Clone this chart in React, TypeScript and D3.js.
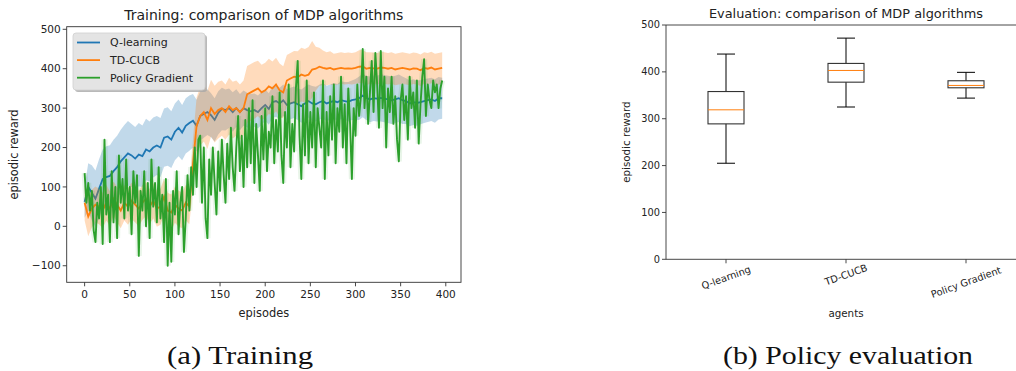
import React from "react";
import * as d3 from "d3";

// ---------- Training data (left panel) ----------
const trainEpisodes: number[] = d3.range(0, 400, 4); // 0..396, step 4
const qMean: number[] = [62,100,85,70,95,120,125,128,140,150,165,175,185,180,172,182,178,195,190,200,205,200,225,228,220,240,250,238,255,262,268,255,280,285,290,282,270,288,298,295,300,290,300,290,300,295,292,295,290,300,308,298,315,318,312,320,308,312,315,310,305,312,318,312,310,315,318,312,315,318,315,320,318,316,320,322,325,332,326,322,325,324,326,324,322,320,322,325,320,318,312,315,313,315,318,320,322,318,325,325];
const qStd: number[] = [40,60,70,72,75,75,78,78,80,80,80,82,82,80,80,80,78,78,76,76,75,75,74,74,72,72,72,70,70,70,68,66,62,60,58,56,55,55,54,52,50,50,48,46,45,44,44,42,42,42,40,40,40,40,40,40,40,40,40,40,42,42,42,44,44,44,45,45,45,46,46,48,48,50,50,52,55,55,56,58,58,58,60,60,60,60,60,60,60,58,58,58,58,56,56,55,55,55,54,52];
const tdMean: number[] = [60,25,45,55,50,40,60,45,70,55,40,60,50,65,55,45,60,70,50,65,45,50,75,40,35,55,45,40,60,50,160,255,280,290,270,300,285,295,300,290,305,295,300,290,300,335,340,345,350,340,345,355,350,360,345,340,370,375,380,378,385,382,385,398,400,405,402,400,402,398,400,402,400,401,400,402,405,406,400,402,401,400,403,402,400,402,398,400,402,400,398,401,400,396,402,400,403,398,400,402];
const tdStd: number[] = [45,50,48,46,45,45,45,44,44,45,45,45,46,46,45,45,44,44,45,45,46,46,45,45,46,46,46,45,45,45,60,72,75,75,74,72,72,72,70,70,72,72,70,70,70,72,72,72,70,70,70,70,68,68,68,66,65,65,65,66,68,68,70,72,56,48,44,42,42,40,40,40,40,40,40,40,42,42,42,40,40,40,40,40,40,40,40,40,40,40,40,40,40,40,40,40,40,40,40,40];
const pgEpisodes: number[] = d3.range(0, 398, 2); // 0..396, step 2
const pgValues: number[] = [135,60,110,40,90,-10,-40,60,20,100,-45,220,30,80,-40,140,10,100,-30,180,60,120,20,170,40,100,-20,140,60,130,-75,90,40,140,0,110,-30,170,50,110,10,150,20,80,-40,120,-100,60,-90,90,30,140,-20,60,100,-65,20,130,40,150,80,200,100,220,230,60,200,20,-30,170,80,200,110,30,190,90,220,130,60,210,120,250,150,90,200,280,140,230,100,270,150,300,160,320,110,260,180,90,280,170,300,140,240,200,330,160,270,190,340,180,110,290,200,360,150,260,190,350,420,230,120,310,180,370,160,290,200,340,150,300,250,200,370,120,290,180,330,220,360,160,300,240,380,200,310,160,350,260,120,300,230,360,280,330,450,300,380,260,340,420,290,440,360,250,445,300,380,200,350,290,380,260,330,220,165,320,360,270,330,220,380,300,340,250,370,210,310,380,424,280,360,320,300,370,340,360,300,350,370];
const seriesNames: string[] = ["Q-learning", "TD-CUCB", "Policy Gradient"];
const seriesColors: string[] = ["#1f77b4", "#ff7f0e", "#2ca02c"];
const trainXTicks: number[] = [0, 50, 100, 150, 200, 250, 300, 350, 400];
const trainYTicks: number[] = [-100, 0, 100, 200, 300, 400, 500];

// ---------- Evaluation data (right panel) ----------
const agents: string[] = ["Q-learning", "TD-CUCB", "Policy Gradient"];
const whiskerLow: number[] = [205, 325, 344];
const q1: number[] = [289, 378, 366];
const medians: number[] = [319, 403, 371];
const q3: number[] = [358, 418, 381];
const whiskerHigh: number[] = [438, 472, 399];
const evalYTicks: number[] = [0, 100, 200, 300, 400, 500];

const FONT = "'DejaVu Sans', sans-serif";
const TXT = "#222";
const AX = "#333";

export default function App() {
  // Left scales
  const xL = d3.scaleLinear().domain([-19.85, 416.85]).range([66.7, 461]);
  const yL = d3.scaleLinear().domain([-142, 506.6]).range([282.3, 26.7]);
  // Right scales
  const xR = d3.scaleLinear().domain([0.5, 3.5]).range([666, 1026]);
  const yR = d3.scaleLinear().domain([0, 500]).range([259.3, 25]);

  const mkLine = (xs: number[], ys: number[]) =>
    d3.line<number>().x((_, i) => xL(xs[i])).y((d) => yL(d))(ys) || "";
  const mkArea = (xs: number[], m: number[], s: number[]) =>
    d3
      .area<number>()
      .x((_, i) => xL(xs[i]))
      .y0((d, i) => yL(d - s[i]))
      .y1((d, i) => yL(d + s[i]))(m) || "";

  const L = { l: 66.7, r: 461, t: 26.7, b: 282.3 };
  const R = { l: 666, r: 1026, t: 25, b: 259.3 };
  const boxW = 0.3;
  const capW = 0.15;
  const fsTick = 10.5;
  const fsTickR = 9.8;

  return (
    <svg
      width={1016}
      height={371}
      style={{ position: "absolute", left: 0, top: 0, background: "#fff" }}
      fontFamily={FONT}
    >
      <defs>
        <clipPath id="clipL">
          <rect x={L.l} y={L.t} width={L.r - L.l} height={L.b - L.t} />
        </clipPath>
      </defs>
      {/* ================= Left panel ================= */}
      <g clipPath="url(#clipL)">
        <path d={mkArea(trainEpisodes, qMean, qStd)} fill={seriesColors[0]} opacity={0.28} />
        <path d={mkLine(trainEpisodes, qMean)} fill="none" stroke={seriesColors[0]} strokeWidth={1.8} />
        <path d={mkArea(trainEpisodes, tdMean, tdStd)} fill={seriesColors[1]} opacity={0.28} />
        <path d={mkLine(trainEpisodes, tdMean)} fill="none" stroke={seriesColors[1]} strokeWidth={1.8} />
        <path d={mkLine(pgEpisodes, pgValues)} fill="none" stroke={seriesColors[2]} strokeWidth={6} opacity={0.1} />
        <path d={mkLine(pgEpisodes, pgValues)} fill="none" stroke={seriesColors[2]} strokeWidth={1.9} strokeLinejoin="round" />
      </g>
      <rect x={L.l} y={L.t} width={L.r - L.l} height={L.b - L.t} fill="none" stroke={AX} strokeWidth={0.9} />
      {trainXTicks.map((t) => (
        <g key={"xl" + t}>
          <line x1={xL(t)} x2={xL(t)} y1={L.b} y2={L.b + 4} stroke={AX} strokeWidth={0.9} />
          <text x={xL(t)} y={L.b + 16} textAnchor="middle" fontSize={fsTick} fill={TXT}>
            {t}
          </text>
        </g>
      ))}
      {trainYTicks.map((t) => (
        <g key={"yl" + t}>
          <line x1={L.l - 4} x2={L.l} y1={yL(t)} y2={yL(t)} stroke={AX} strokeWidth={0.9} />
          <text x={L.l - 6} y={yL(t)} dy="0.35em" textAnchor="end" fontSize={fsTick} fill={TXT}>
            {t < 0 ? "\u2212" + Math.abs(t) : t}
          </text>
        </g>
      ))}
      <text x={(L.l + L.r) / 2} y={20} textAnchor="middle" fontSize={14} fill={TXT}>
        Training: comparison of MDP algorithms
      </text>
      <text x={(L.l + L.r) / 2} y={317} textAnchor="middle" fontSize={11.4} fill={TXT}>
        episodes
      </text>
      <text
        transform={`translate(13.5, ${(L.t + L.b) / 2}) rotate(-90)`}
        textAnchor="middle"
        dy="0.35em"
        fontSize={11.4}
        fill={TXT}
      >
        episodic reward
      </text>
      {/* legend */}
      <g>
        <rect x={75} y={35} width={132} height={57} rx={3} fill="#a8a8a8" opacity={0.8} />
        <rect x={73} y={33} width={132} height={57} rx={3} fill="#e4e4e4" stroke="#cfcfcf" strokeWidth={0.8} />
        {seriesNames.map((n, i) => (
          <g key={n}>
            <line x1={77} x2={100} y1={42.5 + i * 17.6} y2={42.5 + i * 17.6} stroke={seriesColors[i]} strokeWidth={1.8} />
            <text x={110} y={42.5 + i * 17.6} dy="0.35em" fontSize={11} fill={TXT}>
              {n}
            </text>
          </g>
        ))}
      </g>

      {/* ================= Right panel ================= */}
      <line x1={R.l} x2={1016} y1={R.t} y2={R.t} stroke={AX} strokeWidth={0.9} />
      <line x1={R.l} x2={1016} y1={R.b} y2={R.b} stroke={AX} strokeWidth={0.9} />
      <line x1={R.l} x2={R.l} y1={R.t} y2={R.b} stroke={AX} strokeWidth={0.9} />
      {evalYTicks.map((t) => (
        <g key={"yr" + t}>
          <line x1={R.l - 4} x2={R.l} y1={yR(t)} y2={yR(t)} stroke={AX} strokeWidth={0.9} />
          <text x={R.l - 6} y={yR(t)} dy="0.35em" textAnchor="end" fontSize={fsTickR} fill={TXT}>
            {t}
          </text>
        </g>
      ))}
      {agents.map((a, i) => {
        const p = i + 1;
        const cx = xR(p);
        const w = a.length * 0.56 * fsTickR;
        const s = Math.sin((20 * Math.PI) / 180);
        const c = Math.cos((20 * Math.PI) / 180);
        const cy = 263 + (w * s + 11 * c) / 2;
        return (
          <g key={a}>
            <line x1={cx} x2={cx} y1={R.b} y2={R.b + 4} stroke={AX} strokeWidth={0.9} />
            <text
              transform={`translate(${cx}, ${cy}) rotate(-20)`}
              textAnchor="middle"
              dy="0.35em"
              fontSize={fsTickR}
              fill={TXT}
            >
              {a}
            </text>
            {/* whiskers */}
            <line x1={cx} x2={cx} y1={yR(whiskerHigh[i])} y2={yR(q3[i])} stroke="#000" strokeWidth={1} />
            <line x1={cx} x2={cx} y1={yR(q1[i])} y2={yR(whiskerLow[i])} stroke="#000" strokeWidth={1} />
            <line x1={xR(p - capW / 2)} x2={xR(p + capW / 2)} y1={yR(whiskerHigh[i])} y2={yR(whiskerHigh[i])} stroke="#000" strokeWidth={1} />
            <line x1={xR(p - capW / 2)} x2={xR(p + capW / 2)} y1={yR(whiskerLow[i])} y2={yR(whiskerLow[i])} stroke="#000" strokeWidth={1} />
            {/* box */}
            <rect
              x={xR(p - boxW / 2)}
              y={yR(q3[i])}
              width={xR(p + boxW / 2) - xR(p - boxW / 2)}
              height={yR(q1[i]) - yR(q3[i])}
              fill="none"
              stroke="#333"
              strokeWidth={1.1}
            />
            <line x1={xR(p - boxW / 2)} x2={xR(p + boxW / 2)} y1={yR(medians[i])} y2={yR(medians[i])} stroke="#ff7f0e" strokeWidth={1} />
          </g>
        );
      })}
      <text x={846} y={18} textAnchor="middle" fontSize={12.9} fill={TXT}>
        Evaluation: comparison of MDP algorithms
      </text>
      <text x={846} y={317} textAnchor="middle" fontSize={10.3} fill={TXT}>
        agents
      </text>
      <text
        transform={`translate(626, ${(R.t + R.b) / 2}) rotate(-90)`}
        textAnchor="middle"
        dy="0.35em"
        fontSize={10.3}
        fill={TXT}
      >
        episodic reward
      </text>

      {/* ================= Captions ================= */}
      <text x={240} y={364} textAnchor="middle" fontFamily="'Liberation Serif', serif" fontSize={26} textLength={146} lengthAdjust="spacingAndGlyphs" fill="#111">
        (a) Training
      </text>
      <text x={848} y={364} textAnchor="middle" fontFamily="'Liberation Serif', serif" fontSize={26} textLength={250} lengthAdjust="spacingAndGlyphs" fill="#111">
        (b) Policy evaluation
      </text>
    </svg>
  );
}
